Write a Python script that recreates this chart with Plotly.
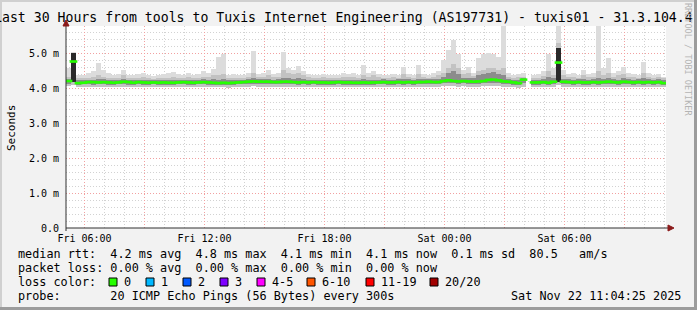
import plotly.graph_objects as go
import pandas as pd

# ---------------- data ----------------
TITLE = "Last 30 Hours from tools to Tuxis Internet Engineering (AS197731) - tuxis01 - 31.3.104.4"
T_START = "2025-11-21 05:04:25"
T_END = "2025-11-22 11:04:25"
STEP_MIN = 15

median = [4.22, 4.78, 4.16, 4.17, 4.19, 4.19, 4.18, 4.19, 4.18, 4.17,
          4.18, 4.20, 4.19, 4.17, 4.19, 4.18, 4.17, 4.18, 4.17, 4.18,
          4.17, 4.17, 4.18, 4.19, 4.18, 4.17, 4.18, 4.19, 4.18, 4.17,
          4.16, 4.17, 4.16, 4.17, 4.18, 4.19, 4.20, 4.21, 4.20, 4.20,
          4.20, 4.19, 4.19, 4.20, 4.20, 4.19, 4.18, 4.19, 4.18, 4.19,
          4.18, 4.18, 4.17, 4.18, 4.19, 4.18, 4.18, 4.17, 4.17, 4.18,
          4.17, 4.18, 4.18, 4.19, 4.18, 4.18, 4.19, 4.18, 4.19, 4.18,
          4.19, 4.19, 4.20, 4.19, 4.19, 4.22, 4.24, 4.22, 4.21, 4.22,
          4.21, 4.20, 4.21, 4.22, 4.25, 4.26, 4.24, 4.21, 4.20, 4.18,
          4.16, 4.26, None, 4.18, 4.18, 4.19, 4.17, 4.20, 4.75, 4.20,
          4.19, 4.18, 4.19, 4.18, 4.18, 4.19, 4.18, 4.19, 4.20, 4.19,
          4.18, 4.20, 4.19, 4.18, 4.19, 4.18, 4.19, 4.18, 4.19, 4.16]

smoke_min = [4.08, 4.10, 4.05, 4.04, 4.06, 4.05, 4.04, 4.06, 4.05, 4.05,
             4.06, 4.04, 4.05, 4.06, 4.05, 4.04, 4.05, 4.06, 4.05, 4.04,
             4.05, 4.06, 4.04, 4.05, 4.06, 4.05, 4.04, 4.05, 4.06, 4.05,
             4.04, 4.05, 4.03, 4.05, 4.06, 4.05, 4.06, 4.07, 4.06, 4.05,
             4.06, 4.05, 4.06, 4.05, 4.04, 4.06, 4.05, 4.06, 4.05, 4.04,
             4.05, 4.05, 4.04, 4.06, 4.05, 4.04, 4.05, 4.06, 4.05, 4.04,
             4.05, 4.06, 4.05, 4.04, 4.05, 4.06, 4.05, 4.04, 4.05, 4.06,
             4.05, 4.04, 4.06, 4.05, 4.06, 4.07, 4.08, 4.07, 4.06, 4.07,
             4.06, 4.05, 4.06, 4.07, 4.08, 4.08, 4.07, 4.06, 4.05, 4.04,
             4.03, 4.06, None, 4.05, 4.04, 4.05, 4.06, 4.05, 4.10, 4.05,
             4.05, 4.04, 4.06, 4.05, 4.04, 4.05, 4.06, 4.05, 4.06, 4.05,
             4.04, 4.06, 4.05, 4.04, 4.05, 4.06, 4.05, 4.04, 4.05, 4.05]

smoke_max = [4.60, 5.05, 4.40, 4.38, 4.45, 4.50, 4.74, 4.55, 4.45, 4.40,
             4.42, 4.54, 4.40, 4.38, 4.42, 4.46, 4.38, 4.36, 4.40, 4.42,
             4.45, 4.48, 4.42, 4.38, 4.45, 4.40, 4.42, 4.50, 4.45, 4.57,
             4.92, 5.00, 4.40, 4.42, 4.38, 4.40, 4.45, 5.07, 4.42, 4.45,
             4.54, 4.42, 4.45, 5.04, 4.60, 4.55, 4.65, 4.50, 4.42, 4.38,
             4.40, 4.42, 4.38, 4.40, 4.38, 4.45, 4.42, 4.45, 4.40, 4.68,
             4.45, 4.50, 4.42, 4.40, 4.38, 4.42, 4.40, 4.63, 4.42, 4.40,
             4.68, 4.42, 4.40, 4.45, 4.50, 4.83, 5.10, 5.40, 5.00, 4.55,
             4.63, 4.45, 4.88, 5.00, 5.03, 5.00, 4.90, 5.80, 4.45, 4.40,
             4.42, 4.45, None, 4.38, 4.42, 4.50, 5.00, 4.60, 5.80, 4.55,
             4.42, 4.45, 4.40, 4.54, 4.42, 4.45, 5.80, 4.60, 4.88, 4.45,
             4.50, 4.63, 4.45, 4.42, 4.40, 4.78, 4.45, 4.40, 4.42, 4.35]

smoke_mid = [4.35, 4.90, 4.30, 4.30, 4.32, 4.33, 4.40, 4.35, 4.30, 4.30,
             4.32, 4.38, 4.30, 4.30, 4.32, 4.33, 4.30, 4.28, 4.30, 4.32,
             4.32, 4.34, 4.32, 4.30, 4.33, 4.30, 4.32, 4.35, 4.33, 4.38,
             4.40, 4.42, 4.30, 4.32, 4.30, 4.32, 4.34, 4.45, 4.34, 4.35,
             4.38, 4.33, 4.35, 4.55, 4.45, 4.42, 4.45, 4.38, 4.33, 4.30,
             4.32, 4.33, 4.30, 4.32, 4.30, 4.35, 4.33, 4.35, 4.32, 4.40,
             4.35, 4.38, 4.33, 4.32, 4.30, 4.33, 4.32, 4.42, 4.33, 4.32,
             4.42, 4.33, 4.32, 4.35, 4.38, 4.45, 4.60, 4.70, 4.60, 4.42,
             4.45, 4.36, 4.50, 4.55, 4.60, 4.60, 4.55, 4.60, 4.35, 4.32,
             4.33, 4.35, None, 4.30, 4.32, 4.36, 4.50, 4.40, 5.30, 4.38,
             4.33, 4.35, 4.32, 4.38, 4.33, 4.35, 4.50, 4.40, 4.45, 4.35,
             4.38, 4.42, 4.35, 4.33, 4.32, 4.45, 4.35, 4.32, 4.33, 4.30]

dark_lo = [4.14, 4.18, 4.12, 4.13, 4.13, 4.12, 4.13, 4.13, 4.12, 4.12,
           4.13, 4.13, 4.12, 4.12, 4.13, 4.12, 4.12, 4.13, 4.12, 4.12,
           4.12, 4.12, 4.13, 4.13, 4.12, 4.12, 4.13, 4.13, 4.12, 4.12,
           4.11, 4.12, 4.11, 4.12, 4.13, 4.13, 4.14, 4.14, 4.14, 4.13,
           4.14, 4.13, 4.13, 4.14, 4.14, 4.13, 4.12, 4.13, 4.12, 4.13,
           4.12, 4.12, 4.12, 4.12, 4.13, 4.12, 4.12, 4.12, 4.12, 4.12,
           4.12, 4.12, 4.13, 4.13, 4.12, 4.12, 4.13, 4.12, 4.13, 4.12,
           4.13, 4.13, 4.14, 4.13, 4.13, 4.15, 4.16, 4.15, 4.14, 4.15,
           4.14, 4.14, 4.14, 4.15, 4.17, 4.17, 4.16, 4.14, 4.13, 4.12,
           4.11, 4.17, None, 4.12, 4.12, 4.13, 4.12, 4.13, 4.18, 4.13,
           4.13, 4.12, 4.13, 4.12, 4.12, 4.13, 4.12, 4.13, 4.14, 4.13,
           4.12, 4.14, 4.13, 4.12, 4.13, 4.12, 4.13, 4.12, 4.13, 4.11]

dark_hi = [4.27, 5.03, 4.24, 4.25, 4.26, 4.26, 4.28, 4.27, 4.25, 4.24,
           4.25, 4.28, 4.26, 4.24, 4.26, 4.26, 4.24, 4.24, 4.25, 4.26,
           4.25, 4.25, 4.26, 4.26, 4.26, 4.24, 4.25, 4.27, 4.26, 4.27,
           4.26, 4.28, 4.24, 4.25, 4.25, 4.26, 4.28, 4.30, 4.28, 4.28,
           4.28, 4.26, 4.27, 4.32, 4.30, 4.28, 4.30, 4.28, 4.25, 4.26,
           4.25, 4.26, 4.24, 4.25, 4.26, 4.26, 4.25, 4.25, 4.24, 4.27,
           4.25, 4.26, 4.26, 4.27, 4.25, 4.26, 4.27, 4.28, 4.27, 4.26,
           4.28, 4.27, 4.28, 4.27, 4.28, 4.35, 4.45, 4.50, 4.42, 4.32,
           4.32, 4.30, 4.38, 4.42, 4.45, 4.48, 4.42, 4.40, 4.28, 4.26,
           4.24, 4.32, None, 4.25, 4.26, 4.28, 4.35, 4.30, 5.17, 4.28,
           4.27, 4.26, 4.27, 4.28, 4.26, 4.27, 4.30, 4.28, 4.30, 4.27,
           4.26, 4.30, 4.27, 4.26, 4.27, 4.30, 4.27, 4.26, 4.27, 4.24]

y_tickvals = [0, 1, 2, 3, 4, 5]
y_ticktext = ["0.0", "1.0 m", "2.0 m", "3.0 m", "4.0 m", "5.0 m"]
x_tickvals = ["2025-11-21 06:00", "2025-11-21 09:00", "2025-11-21 12:00", "2025-11-21 15:00",
              "2025-11-21 18:00", "2025-11-21 21:00", "2025-11-22 00:00", "2025-11-22 03:00",
              "2025-11-22 06:00", "2025-11-22 09:00"]
x_ticktext = ["Fri 06:00", "", "Fri 12:00", "", "Fri 18:00", "", "Sat 00:00", "", "Sat 06:00", ""]

loss_labels = ["0", "1", "2", "3", "4-5", "6-10", "11-19", "20/20"]
loss_colors = ["#26ff00", "#00b8ff", "#0059ff", "#7e00ff", "#ff00ff", "#ff5500", "#ff0000", "#a10000"]

legend_lines = [
    "median rtt:  4.2 ms avg  4.8 ms max  4.1 ms min  4.1 ms now  0.1 ms sd  80.5   am/s",
    "packet loss: 0.00 % avg  0.00 % max  0.00 % min  0.00 % now",
    "loss color:",
    "probe:       20 ICMP Echo Pings (56 Bytes) every 300s",
]
stamp = "Sat Nov 22 11:04:25 2025"
y_title = "Seconds"
watermark = "RRDTOOL / TOBI OETIKER"

# ---------------- layout helpers (pixel geometry) ----------------
W, H = 697, 310
L, R, T, B = 66, 31, 26, 82
PW, PH = W - L - R, H - T - B
MONO = "DejaVu Sans Mono"


def px(x):
    return (x - L) / PW


def py(y):
    return (H - B - y) / PH


def nb(s):
    return s.replace(" ", "\u00a0")


def span(a, b):
    return [None if (u is None or v is None) else round(u - v, 4) for u, v in zip(a, b)]


xs = pd.date_range(pd.Timestamp(T_START) + pd.Timedelta(minutes=STEP_MIN / 2),
                   periods=len(median), freq=f"{STEP_MIN}min")
bw = STEP_MIN * 60 * 1000
dark_span = span(dark_hi, dark_lo)
dark_cols = ["#2a2a2a" if (d is not None and d > 0.4) else "#8c8c8c" for d in dark_span]

fig = go.Figure()
fig.add_bar(x=xs, y=span(smoke_max, smoke_min), base=smoke_min, width=bw,
            marker=dict(color="#dcdcdc", line_width=0))
fig.add_bar(x=xs, y=span(smoke_mid, smoke_min), base=smoke_min, width=bw,
            marker=dict(color="#c2c2c2", line_width=0))
fig.add_bar(x=xs, y=dark_span, base=dark_lo, width=bw,
            marker=dict(color=dark_cols, line_width=0))
fig.add_scatter(x=xs, y=median, mode="markers",
                marker=dict(symbol="line-ew", size=5.5, color="#26ff00",
                            line=dict(color="#26ff00", width=2.6)))

fig.update_layout(
    width=W, height=H, margin=dict(l=L, r=R, t=T, b=B, pad=0),
    paper_bgcolor="#f2f2f2", plot_bgcolor="#ffffff",
    barmode="overlay", bargap=0, showlegend=False,
    font=dict(family=MONO, color="#000000"),
)
grid_major = dict(showgrid=True, gridcolor="#f2a0a0", gridwidth=1, griddash="1px,2px")
fig.update_xaxes(type="date", range=[T_START, T_END], tickvals=x_tickvals, ticktext=x_ticktext,
                 zeroline=False, showline=False, ticks="", ticklabelstandoff=3,
                 tickfont=dict(family=MONO, size=10, color="#000"),
                 minor=dict(dtick=3600000, tick0="2025-11-21 00:00", showgrid=True,
                            gridcolor="#d2d2d2", gridwidth=1, griddash="1px,2px"),
                 **grid_major)
fig.update_yaxes(range=[0, 5.8], tickvals=y_tickvals, ticktext=y_ticktext,
                 zeroline=False, showline=False, ticks="", ticklabelstandoff=6,
                 tickfont=dict(family=MONO, size=10, color="#000"),
                 minor=dict(dtick=0.2, tick0=0, showgrid=True,
                            gridcolor="#d2d2d2", gridwidth=1, griddash="1px,2px"),
                 **grid_major)

shapes = []
# frame
shapes.append(dict(type="rect", xref="paper", yref="paper", x0=px(0), x1=px(W), y0=py(0), y1=py(2),
                   fillcolor="#d0d0d0", line_width=0, layer="below"))
shapes.append(dict(type="rect", xref="paper", yref="paper", x0=px(0), x1=px(2), y0=py(H), y1=py(0),
                   fillcolor="#d0d0d0", line_width=0, layer="below"))
shapes.append(dict(type="rect", xref="paper", yref="paper", x0=px(0), x1=px(W), y0=py(H), y1=py(H - 3),
                   fillcolor="#9c9c9c", line_width=0, layer="below"))
shapes.append(dict(type="rect", xref="paper", yref="paper", x0=px(W - 3), x1=px(W), y0=py(H), y1=py(0),
                   fillcolor="#9c9c9c", line_width=0, layer="below"))
# axes
shapes.append(dict(type="line", xref="paper", yref="paper", x0=px(L), x1=px(668), y0=0, y1=0,
                   line=dict(color="#303030", width=1)))
shapes.append(dict(type="line", xref="paper", yref="paper", x0=0, x1=0, y0=py(231), y1=py(25),
                   line=dict(color="#303030", width=1)))
shapes.append(dict(type="path", xref="paper", yref="paper",
                   path=f"M {px(668)},{py(225)} L {px(674)},{py(228)} L {px(668)},{py(231)} Z",
                   fillcolor="#8b1a1a", line=dict(color="#8b1a1a", width=1)))
shapes.append(dict(type="path", xref="paper", yref="paper",
                   path=f"M {px(63)},{py(26)} L {px(66)},{py(20)} L {px(69)},{py(26)} Z",
                   fillcolor="#8b1a1a", line=dict(color="#8b1a1a", width=1)))

ann = []
ann.append(dict(text=nb(TITLE), xref="paper", yref="paper", x=px(343), y=py(18),
                xanchor="center", yanchor="middle", showarrow=False,
                font=dict(family=MONO, size=13.2, color="#000")))
ann.append(dict(text=y_title, xref="paper", yref="paper", x=px(11), y=py(128),
                xanchor="center", yanchor="middle", textangle=-90, showarrow=False,
                font=dict(family=MONO, size=11, color="#000")))
ann.append(dict(text=nb(watermark), xref="paper", yref="paper", x=px(688), y=py(59),
                xanchor="center", yanchor="middle", textangle=90, showarrow=False,
                font=dict(family=MONO, size=8.5, color="#b4b4b4")))
line_y = [254, 268, 282, 296]
for s, yy in zip(legend_lines, line_y):
    ann.append(dict(text=nb(s), xref="paper", yref="paper", x=px(16), y=py(yy),
                    xanchor="left", yanchor="middle", showarrow=False,
                    font=dict(family=MONO, size=11.8, color="#000")))
ann.append(dict(text=nb(stamp), xref="paper", yref="paper", x=px(683), y=py(296),
                xanchor="right", yanchor="middle", showarrow=False,
                font=dict(family=MONO, size=11.8, color="#000")))
box_x = [109, 146, 183, 220, 257, 307, 366, 430]
for lab, col, bx in zip(loss_labels, loss_colors, box_x):
    shapes.append(dict(type="rect", xref="paper", yref="paper", x0=px(bx), x1=px(bx + 8),
                       y0=py(286), y1=py(278), fillcolor=col, line=dict(color="#000", width=1)))
    ann.append(dict(text=nb(lab), xref="paper", yref="paper", x=px(bx + 13), y=py(282),
                    xanchor="left", yanchor="middle", showarrow=False,
                    font=dict(family=MONO, size=11.8, color="#000")))

fig.update_layout(shapes=shapes, annotations=ann)
fig.write_html("out.html")
